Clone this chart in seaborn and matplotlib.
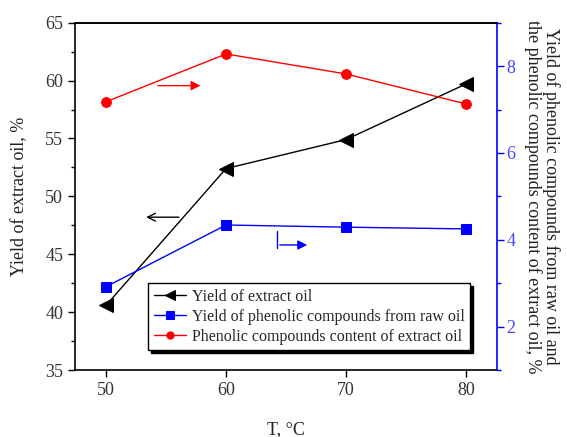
import matplotlib
matplotlib.use("Agg")
import matplotlib.pyplot as plt
import seaborn as sns
import pandas as pd
from matplotlib.ticker import MultipleLocator

sns.set_theme(style="ticks")
plt.rcParams['font.family'] = ['Liberation Serif', 'DejaVu Serif']

temps = [50, 60, 70, 80]
yield_oil = [40.6, 52.4, 54.9, 59.7]
yield_phenolic = [2.92, 4.34, 4.29, 4.25]
phenolic_content = [7.18, 8.28, 7.82, 7.13]

lab_oil = "Yield of extract oil"
lab_phen = "Yield of phenolic compounds from raw oil"
lab_cont = "Phenolic compounds content of extract oil"

df = pd.DataFrame({"T": temps, "oil": yield_oil, "phen": yield_phenolic, "cont": phenolic_content})

fig = plt.figure(figsize=(5.67, 4.37), dpi=100)
ax = fig.add_axes([75/567, 1-370/437, 422/567, 347.3/437])
ax2 = ax.twinx()

sns.lineplot(data=df, x="T", y="oil", ax=ax, color="black", marker="<", markersize=10,
             markeredgecolor="black", linewidth=1, label=lab_oil, legend=False)
sns.lineplot(data=df, x="T", y="phen", ax=ax2, color="blue", marker="s", markersize=7,
             markeredgecolor="blue", linewidth=1, label=lab_phen, legend=False)
sns.lineplot(data=df, x="T", y="cont", ax=ax2, color="red", marker="o", markersize=7,
             markeredgecolor="red", linewidth=1, label=lab_cont, legend=False)

ax.set_xlim(47.4, 82.6)
ax.set_ylim(35, 65)
ax2.set_ylim(1, 9)
ax.set_xticks([50, 60, 70, 80])
ax.yaxis.set_major_locator(MultipleLocator(5))
ax.yaxis.set_minor_locator(MultipleLocator(2.5))
ax2.set_yticks([2, 4, 6, 8])
ax2.yaxis.set_minor_locator(MultipleLocator(1))

ax.tick_params(axis='both', which='major', direction='out', length=5, width=1,
               labelsize=13, labelcolor='#333333', color='black')
ax.tick_params(axis='y', which='minor', direction='out', length=3, width=1, color='black')
ax.tick_params(axis='x', which='minor', bottom=False)
ax2.tick_params(axis='y', which='major', direction='out', length=5, width=1,
                labelsize=13, labelcolor='#4444ff', color='blue', pad=2)
ax2.tick_params(axis='y', which='minor', direction='out', length=3, width=1, color='blue')

for s in ['left', 'bottom', 'top']:
    ax.spines[s].set_color('black')
    ax.spines[s].set_linewidth(1.2)
    ax2.spines[s].set_visible(False)
ax.spines['right'].set_visible(False)
ax2.spines['right'].set_color('blue')
ax2.spines['right'].set_linewidth(1.2)
ax2.spines['top'].set_visible(True)
ax2.spines['top'].set_color('black')
ax2.spines['top'].set_linewidth(1.2)

ax.set_xlabel("T, °C", fontsize=13, color='#222222', labelpad=16)
ax.set_ylabel("Yield of extract oil, %", fontsize=13, color='#222222', labelpad=12)
ax2.set_ylabel("Yield of phenolic compounds from raw oil and\nthe phenolic compounds content of extract oil, %",
               fontsize=13, color='#222222', rotation=270, labelpad=32, linespacing=1.0)

# direction arrows
ax2.annotate("", xy=(58.1, 7.55), xytext=(54.1, 7.55),
             arrowprops=dict(arrowstyle="-|>", color="red", lw=1, mutation_scale=14))
ax.annotate("", xy=(53.1, 48.2), xytext=(56.3, 48.2),
            arrowprops=dict(arrowstyle="->", color="black", lw=1, mutation_scale=14))
ax2.plot([64.25, 64.25], [4.21, 3.81], color="blue", lw=1)
ax2.annotate("", xy=(67.0, 3.88), xytext=(64.25, 3.88),
             arrowprops=dict(arrowstyle="-|>", color="blue", lw=1, mutation_scale=14))

h1, l1 = ax.get_legend_handles_labels()
h2, l2 = ax2.get_legend_handles_labels()
leg = ax2.legend(h1 + h2, l1 + l2, loc='lower left', bbox_to_anchor=(0.173, 0.057),
                 fontsize=11.5, frameon=True, fancybox=False, edgecolor='black',
                 framealpha=1, shadow={'color': 'black', 'alpha': 1},
                 handlelength=2.0, handletextpad=0.4, borderpad=0.35, labelspacing=0.25,
                 borderaxespad=0, markerscale=0.75)
leg.get_frame().set_linewidth(1)

fig.savefig("out.png", dpi=100)
